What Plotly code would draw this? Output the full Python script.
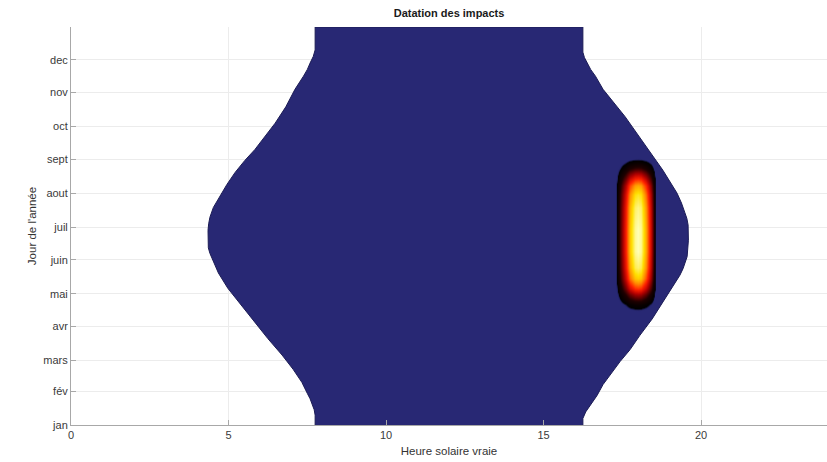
import numpy as np
import plotly.graph_objects as go

# ---- data ----
month_labels = ['jan', 'fév', 'mars', 'avr', 'mai', 'juin', 'juil', 'aout', 'sept', 'oct', 'nov', 'dec']
month_days = [1, 32, 60, 91, 121, 152, 182, 213, 244, 274, 305, 335]
x_ticks = [0, 5, 10, 15, 20]

# left edge of the daylight region (sunrise, true solar hour)
sunrise_days = [1, 10, 15, 20, 25, 30, 40, 52, 65, 80, 95, 110, 126, 140, 147, 154, 158, 163, 170,
                179, 185, 191, 200, 210, 221, 232, 243, 253, 265, 277, 292, 308, 320, 326, 332,
                338, 344, 365]
sunrise_hours = [7.75, 7.75, 7.72, 7.66, 7.59, 7.50, 7.33, 7.05, 6.70, 6.25, 5.84, 5.40, 4.98,
                 4.68, 4.57, 4.48, 4.41, 4.36, 4.35, 4.35, 4.37, 4.41, 4.52, 4.73, 4.95, 5.21,
                 5.52, 5.84, 6.15, 6.48, 6.82, 7.11, 7.38, 7.50, 7.59, 7.69, 7.75, 7.75]

# right edge of the daylight region (sunset)
sunset_days = [1, 7, 13, 19, 28, 38, 48, 59, 70, 83, 98, 114, 126, 138, 144, 150, 155, 170, 184,
               190, 195, 204, 213, 234, 255, 283, 308, 320, 326, 332, 337, 342, 365]
sunset_hours = [16.25, 16.25, 16.34, 16.48, 16.70, 16.89, 17.15, 17.43, 17.75, 18.06, 18.45,
                18.79, 19.07, 19.33, 19.43, 19.50, 19.56, 19.60, 19.59, 19.55, 19.49, 19.38,
                19.24, 18.79, 18.29, 17.59, 16.89, 16.65, 16.50, 16.38, 16.30, 16.25, 16.25]

# impact density hot spot: profiles across hours and days
blob_x_hours = [17.0, 17.3, 17.45, 17.6, 17.75, 17.9, 18.0, 18.1, 18.25, 18.4, 18.55, 18.8]
blob_x_weight = [0.0, 0.05, 0.30, 0.55, 0.80, 0.97, 1.0, 0.97, 0.75, 0.45, 0.05, 0.0]
blob_y_days = [100, 107, 111, 115, 120, 126, 135, 145, 160, 180, 200, 212, 220, 226, 231, 236,
               240, 244, 250]
blob_y_weight = [0.0, 0.06, 0.12, 0.22, 0.38, 0.58, 0.82, 0.94, 1.0, 1.0, 0.96, 0.88, 0.75,
                 0.58, 0.40, 0.24, 0.13, 0.06, 0.0]

blob_z = np.outer(blob_y_weight, blob_x_weight)

day_blue = '#282874'
hot_scale = [[0.0, 'rgba(40,40,116,0)'], [0.05, 'rgba(40,40,116,0)'], [0.07, '#000000'],
             [0.2, '#1e0000'], [0.4, '#b00000'], [0.55, '#ff2000'], [0.7, '#ff8c00'],
             [0.85, '#ffe000'], [1.0, '#ffffb8']]

fig = go.Figure()
fig.add_trace(go.Scatter(
    x=sunrise_hours + sunset_hours[::-1],
    y=sunrise_days + sunset_days[::-1],
    mode='lines', fill='toself', fillcolor=day_blue,
    line=dict(color='#1c1c55', width=1),
    hoverinfo='skip', showlegend=False))
fig.add_trace(go.Heatmap(
    x=blob_x_hours, y=blob_y_days, z=blob_z,
    colorscale=hot_scale, zmin=0, zmax=1, zsmooth='best',
    showscale=False, xaxis='x2', yaxis='y2', hoverinfo='skip'))

font_family = 'Liberation Sans, Arial, sans-serif'
axis_common = dict(showgrid=True, gridcolor='#ececec', gridwidth=1, zeroline=False,
                   showline=True, linecolor='#a8a8a8', linewidth=1,
                   ticks='inside', ticklen=5, tickcolor='#a8a8a8',
                   tickfont=dict(family=font_family, size=11, color='#3a3a3a'))

fig.update_layout(
    width=827, height=462,
    margin=dict(l=71, r=0, t=27, b=37),
    paper_bgcolor='white', plot_bgcolor='white',
    font=dict(family=font_family, size=11, color='#222222'),
    title=dict(text='<b>Datation des impacts</b>', x=0.543, xanchor='center',
               y=0.972, yanchor='middle', font=dict(size=11, color='#1a1a1a')),
    xaxis=dict(range=[0, 24], tickvals=x_ticks,
               title=dict(text='Heure solaire vraie', standoff=6,
                          font=dict(size=11.5, color='#333333')),
               **axis_common),
    yaxis=dict(range=[1, 365], tickvals=month_days, ticktext=month_labels,
               title=dict(text="Jour de l'année", standoff=4,
                          font=dict(size=11.5, color='#333333')),
               **axis_common),
    xaxis2=dict(overlaying='x', anchor='y2', range=[0, 24], visible=False),
    yaxis2=dict(overlaying='y', anchor='x2', range=[1, 365], visible=False),
)

fig.write_html('out.html')
